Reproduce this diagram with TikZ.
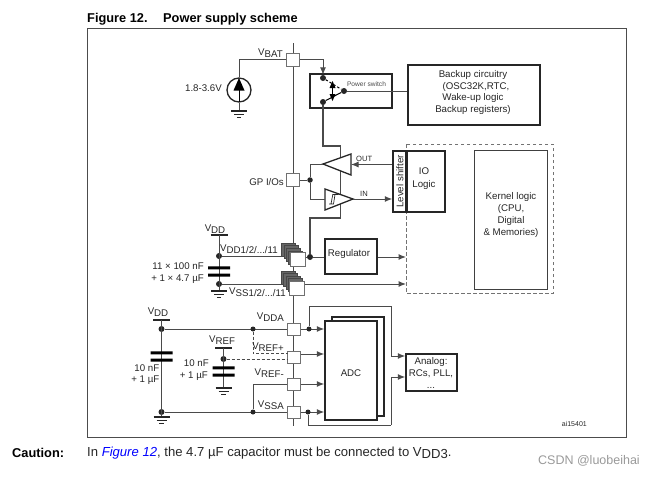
\documentclass[tikz,border=0pt]{standalone}
\usepackage{fontspec}
\setmainfont{Liberation Sans}
\usetikzlibrary{positioning, arrows.meta, calc}
\definecolor{wiregrey}{HTML}{4A4A4A}
\definecolor{padgrey}{HTML}{707070}
\definecolor{stackgrey}{HTML}{666666}
\newcommand{\vrail}[1]{V\raisebox{-2.2pt}{#1}}
\newcommand{\dsz}{\fontsize{9.7}{12}\selectfont}

\begin{document}
\begin{tikzpicture}[
  x=1pt, y=-1pt,
  font=\dsz,
  wire/.style={wiregrey, line width=1pt},
  feed/.style={wire, -{Latex[length=7.5pt,width=6pt]}},
  pwr/.style={wiregrey, line width=1.4pt},
  dashwire/.style={wiregrey, line width=1pt, dash pattern=on 2.8pt off 2.2pt},
  pad/.style={draw=padgrey, line width=1pt, fill=white, rectangle, minimum width=13pt, minimum height=13pt, inner sep=0pt},
  stackpad/.style={draw=stackgrey!70!black, line width=0.6pt, fill=stackgrey, rectangle, minimum width=14pt, minimum height=13pt, inner sep=0pt},
  dot/.style={circle, fill=black!85, inner sep=0pt, minimum size=6pt},
  blockbox/.style={draw=black!85, line width=1.5pt, fill=white, rectangle, inner sep=0pt, align=center},
  lbl/.style={inner sep=0pt, text=black!85},
  gnd/.pic={
    \draw[black!85, line width=1.1pt] (-8,0) -- (8,0) (-5,3.6) -- (5,3.6) (-2.2,6.8) -- (2.2,6.8);
  },
  cap/.pic={
    \fill[black] (-11,-5.2) rectangle (11,-2.2) (-11,2) rectangle (11,5);
  },
  rail/.pic={
    \draw[black!85, line width=1.2pt] (-8.5,0) -- (8.5,0);
  }
]
  \useasboundingbox (0,0) rectangle (654,477);

  % --- Title and frame ---
  \node[lbl, anchor=west, text=black, font=\fontsize{12.8}{14}\selectfont\bfseries] (title) at (87,19) {Figure 12.};
  \node[lbl, anchor=west, text=black, font=\fontsize{12.8}{14}\selectfont\bfseries] (titletxt) at (163,19) {Power supply scheme};
  \draw[black!70, line width=0.9pt] (87,28) rectangle (626,437);

  % --- Main vertical bus ---
  \coordinate (bustop) at (293,43);
  \coordinate (busbot) at (293,426);
  \draw[wire] (bustop) -- (busbot);

  % --- Blocks ---
  \draw[black!55, line width=0.9pt, dash pattern=on 3.5pt off 2.5pt] (406,144) rectangle (553,293);
  \node[blockbox, minimum width=132pt, minimum height=60pt] (backup) at (474,95) {};
  \node[lbl, align=center, font=\fontsize{9.7}{11.7}\selectfont] (backuptxt) at (473,92.5)
       {Backup circuitry\\\hspace*{6pt}(OSC32K,RTC,\\Wake-up logic\\Backup registers)};
  \node[blockbox, minimum width=82pt, minimum height=34pt] (switchbox) at (351,91) {};
  \node[lbl, font=\fontsize{6.6}{8}\selectfont, text=black!70] (switchtxt) at (366.5,84.5) {Power switch};
  \node[blockbox, minimum width=13pt, minimum height=61pt] (shifter) at (399.5,181.5) {};
  \node[lbl, rotate=90] (shiftertxt) at (400,181.5) {Level shifter};
  \node[blockbox, minimum width=38pt, minimum height=61pt, anchor=west] (iologic) at (406,181.5) {};
  \node[lbl, align=center, font=\fontsize{9.7}{12.6}\selectfont] (iotxt) at (424,178.5) {IO\\Logic};
  \node[draw=black!75, line width=0.8pt, minimum width=73pt, minimum height=139pt, inner sep=0pt] (kernel) at (510.5,219.5) {};
  \node[lbl, align=center, font=\fontsize{9.7}{12}\selectfont] (kerneltxt) at (511,214.5) {Kernel logic\\(CPU,\\Digital\\\& Memories)};
  \node[blockbox, minimum width=52pt, minimum height=35pt] (regulator) at (351,256.5) {};
  \node[lbl] (regtxt) at (349,254) {Regulator};
  \node[blockbox, minimum width=52pt, minimum height=99pt] (adcback) at (358,366.5) {};
  \node[blockbox, minimum width=52pt, minimum height=99pt] (adc) at (351,370.5) {};
  \node[lbl] (adctxt) at (351,373) {ADC};
  \node[blockbox, minimum width=51pt, minimum height=37pt] (analog) at (431.5,372.5) {};
  \node[lbl, align=center, font=\fontsize{9.7}{11.8}\selectfont] (analogtxt) at (431,373) {Analog:\\RCs, PLL,\\...};

  % --- Pads on the bus ---
  \node[pad] (vbat) at (293,59.5) {};
  \node[pad] (gpio) at (293,180) {};
  \node[pad, minimum height=12pt] (vdda)   at (294,329) {};
  \node[pad, minimum height=12pt] (vrefp)  at (294,357) {};
  \node[pad, minimum height=12pt] (vrefm)  at (294,384) {};
  \node[pad, minimum height=12pt] (vssa)   at (294,412) {};

  % --- Stacked supply pads ---
  \foreach \i in {0,1,2,3} {
    \node[stackpad] at ({288.5+2.4*\i},{249.5+2.6*\i}) {};
    \node[stackpad] at ({288+2.4*\i},{277.5+2.4*\i}) {};
  }
  \node[pad, minimum width=15pt, minimum height=14pt] (vddpad) at (297.5,259) {};
  \node[pad, minimum width=15pt, minimum height=14pt] (vsspad) at (296.5,288) {};

  % --- Battery and VBAT feed ---
  \node[circle, draw=black!85, line width=1.3pt, minimum size=24pt, inner sep=0pt] (batt) at (239,90) {};
  \coordinate (gndbat) at (239,111);
  \draw[wire] (vbat.west) -| (batt.north);
  \draw[wire] (batt.south) -- (gndbat);
  \fill[black] (239,78) -- (244.5,90.5) -- (233.5,90.5) -- cycle;
  \draw[black, line width=1pt] (239,90) -- (239,102);
  \pic at (gndbat) {gnd};
  \node[lbl, anchor=east] (battxt) at (222,88) {1.8-3.6V};
  \node[lbl, anchor=south east] (vbattxt) at (283,58) {\vrail{BAT}};

  % --- Power switch ---
  \node[dot] (swa) at (323,78) {};
  \node[dot] (swb) at (323,102) {};
  \node[dot] (swc) at (344,91) {};
  \draw[feed] (vbat.east) -| (swa.north);
  \draw[black, line width=1pt, dash pattern=on 2.5pt off 2pt] (swa) -- (swc);
  \draw[black, line width=1pt] (swb) -- (swc);
  \fill[black] (332.5,81) -- (335.5,88) -- (329.5,88) -- cycle;
  \fill[black] (332.5,101) -- (335.5,94) -- (329.5,94) -- cycle;
  \draw[black, line width=0.8pt] (332.5,86) -- (332.5,96);
  \draw[wire] (swc) -- (swc -| backup.west);

  % --- IO buffers ---
  \coordinate (outtip)  at (323,164);
  \coordinate (outbase) at (351,164.5);
  \coordinate (intail)  at (325,199);
  \coordinate (intip)   at (353,199);
  \coordinate (turnone) at (323,146);
  \coordinate (turntwo) at (340.5,146);
  \coordinate (turnthr) at (340.5,218);
  \node[dot, minimum size=5.5pt] (gpnode) at (310,180) {};
  \node[dot] (regnode) at (310,257) {};
  \draw[pwr] (swb) -- (turnone) -- (turntwo) -- (turnthr) -| (regnode);
  \draw[black!85, line width=1.3pt, fill=white] (outtip) -- (351,154) -- (351,175) -- cycle;
  \draw[black!85, line width=1.3pt, fill=white] (325,189) -- (intip) -- (325,210) -- cycle;
  \draw[black!85, line width=0.7pt] (329,204) -- (333.5,204) -- (335,194.5) -- (338.5,194.5) (331,204) -- (332.8,194.5) -- (335,194.5);
  \draw[wire] (gpio.east) -- (gpnode);
  \draw[wire] (gpnode) |- (outtip);
  \draw[wire] (gpnode) |- (intail);
  \draw[feed] (outbase -| shifter.west) -- (outbase);
  \draw[feed] (intip) -- (intip -| shifter.west);
  \node[lbl, font=\fontsize{7.6}{9}\selectfont, anchor=west] (outtxt) at (356,158.5) {OUT};
  \node[lbl, font=\fontsize{7.6}{9}\selectfont, anchor=west] (intxt) at (360,193.5) {IN};
  \node[lbl, anchor=east] (gptxt) at (284,182) {GP I/Os};

  % --- Digital supply ---
  \pic at (219,235) {rail};
  \coordinate (vddtop) at (219,235);
  \coordinate (gndvss) at (219,291);
  \node[dot] (vddnode) at (219,256) {};
  \node[dot] (vssnode) at (219,284) {};
  \draw[wire] (vddtop) -- (gndvss);
  \draw[wire] (vddnode) -- (282,256);
  \draw[wire] (vssnode) -- (282,284);
  \pic at (219,271.5) {cap};
  \pic at (gndvss) {gnd};
  \node[lbl] (vddtxt) at (215,229) {\vrail{DD}};
  \node[lbl, anchor=west] (vddlist) at (220,249) {\vrail{DD1/2/.../11}};
  \node[lbl, anchor=west] (vsslist) at (229,292.5) {\vrail{SS1/2/.../11}};
  \node[lbl, anchor=east] (captxta) at (204,266) {11 × 100 nF};
  \node[lbl, anchor=east] (captxtb) at (204,279) {+ 1 × 4.7 µF};
  \draw[wire] (regnode) -- (regnode -| vddpad.east);
  \draw[wire] (regnode) -- (regulator.west |- regnode);
  \draw[feed] (regulator.east |- regnode) -- (406,257);
  \draw[feed] (vsspad.east |- 0,284) -- (406,284);

  % --- Analog supply ---
  \pic at (161.5,320) {rail};
  \coordinate (vddatop) at (161.5,320);
  \coordinate (gndvdda) at (161.5,417);
  \node[dot] (vddanode) at (161.5,329) {};
  \node[dot] (vssanode) at (161.5,412) {};
  \draw[wire] (vddatop) -- (gndvdda);
  \draw[wire] (vddanode) -- (vdda.west);
  \draw[wire] (vssanode) -- (vssa.west);
  \pic at (161.5,356.5) {cap};
  \pic at (gndvdda) {gnd};
  \node[lbl] (vdda2txt) at (158,312.5) {\vrail{DD}};
  \node[lbl, anchor=east] (capatxta) at (159.5,368.5) {10 nF};
  \node[lbl, anchor=east] (capatxtb) at (159.5,380.5) {+ 1 µF};

  % --- Reference supply ---
  \pic at (223.5,348) {rail};
  \coordinate (vreftop) at (223.5,348);
  \coordinate (gndref) at (223.5,388);
  \node[dot] (refnode) at (223.5,359) {};
  \node[dot, minimum size=5pt] (senode) at (253,329) {};
  \node[dot, minimum size=5pt] (ssnode) at (253,412) {};
  \draw[wire] (vreftop) -- (gndref);
  \pic at (223.5,371.5) {cap};
  \pic at (gndref) {gnd};
  \draw[dashwire] (senode) |- (288,353.5);
  \draw[dashwire] (refnode) -- (288,359);
  \draw[wire] (vrefm.west) -| (ssnode);
  \node[lbl] (vreftxt) at (222,340) {\vrail{REF}};
  \node[lbl, anchor=east] (caprtxta) at (209,363) {10 nF};
  \node[lbl, anchor=east] (caprtxtb) at (208,376) {+ 1 µF};
  \node[lbl, anchor=east] (vddalbl)  at (284,317) {\vrail{DDA}};
  \node[lbl, anchor=east] (vrefplbl) at (284,347) {\vrail{REF+}};
  \node[lbl, anchor=east] (vrefmlbl) at (284,373) {\vrail{REF-}};
  \node[lbl, anchor=east] (vssalbl)  at (284,405) {\vrail{SSA}};

  % --- Pads into the converter ---
  \foreach \p/\yy in {vdda/329, vrefp/354, vrefm/384, vssa/412}
    \draw[feed] (\p.east |- 0,\yy) -- (adc.west |- 0,\yy);
  \node[dot, minimum size=5pt] (topnode) at (309,329) {};
  \node[dot, minimum size=5pt] (botnode) at (308,412) {};
  \coordinate (upturn) at (391,306);
  \coordinate (dnturn) at (391,425);
  \draw[wire] (topnode) |- (upturn);
  \draw[feed] (upturn) |- (analog.west |- 0,356);
  \draw[wire] (botnode) |- (dnturn);
  \draw[feed] (dnturn) |- (analog.west |- 0,377);

  % --- Part reference and note below the frame ---
  \node[lbl, font=\fontsize{7}{8}\selectfont, anchor=east] (partno) at (587,424) {ai15401};
  \node[lbl, anchor=west, text=black, font=\fontsize{12.8}{14}\selectfont\bfseries] (caution) at (12,453) {Caution:};
  \node[lbl, anchor=west, font=\fontsize{13.1}{14}\selectfont] (cautiontxt) at (87,453)
       {In \textit{\textcolor{blue}{Figure 12}}, the 4.7 µF capacitor must be connected to V\raisebox{-2.5pt}{DD3}.};
  \node[lbl, anchor=east, font=\fontsize{12.5}{14}\selectfont, text=black!40] (mark) at (640,461) {CSDN @luobeihai};
\end{tikzpicture}
\end{document}
